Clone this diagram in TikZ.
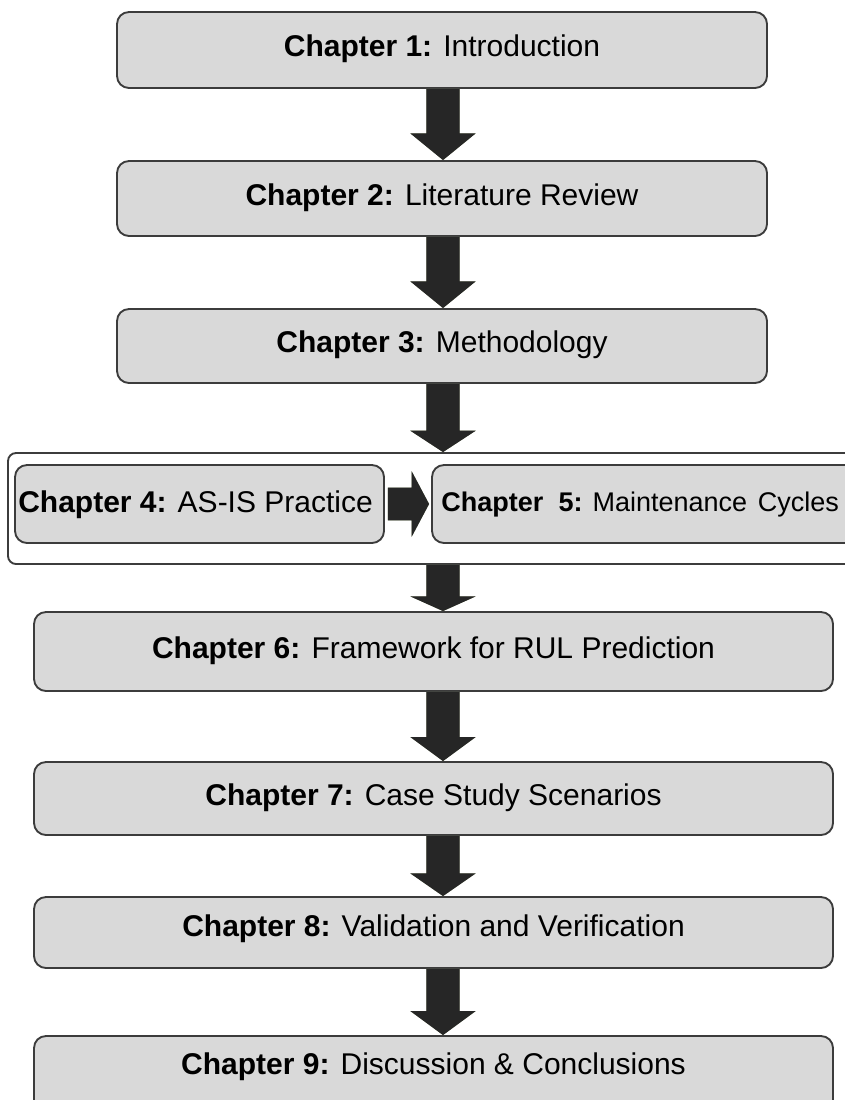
\documentclass[tikz,border=0pt]{standalone}
\usepackage{fontspec}
\setmainfont{Liberation Sans}
\usetikzlibrary{calc,fit}

\definecolor{boxfill}{HTML}{D9D9D9}
\definecolor{boxline}{HTML}{3C3C3C}
\definecolor{arrowfill}{HTML}{262626}
\definecolor{arrowshade}{HTML}{97A47C}

\tikzset{
  chapbox/.style={draw=boxline, fill=boxfill, line width=1.4pt,
    rounded corners=9pt, inner sep=0pt},
  groupframe/.style={draw=boxline, fill=white, line width=1.4pt,
    rounded corners=6pt, inner sep=0pt},
  chaptext/.style={inner sep=0pt, font=\fontsize{22.5pt}{27pt}\selectfont},
  smalltext/.style={inner sep=0pt, font=\fontsize{20.25pt}{24pt}\selectfont},
}

% block arrow pointing down: #1 start, #2 end, #3 head length (pt)
\newcommand\downblock[3]{%
  \foreach \dx/\dy/\col in {1.6pt/-1.6pt/arrowshade, 0pt/0pt/arrowfill}{
    \fill[\col, xshift=\dx, yshift=\dy] let \p1=#1, \p2=#2 in
      (\x1-12.5pt,\y1) -- (\x1+12.5pt,\y1) -- (\x1+12.5pt,\y2+#3)
      -- (\x1+24.5pt,\y2+#3) -- (\x1,\y2) -- (\x1-24.5pt,\y2+#3)
      -- (\x1-12.5pt,\y2+#3) -- cycle;
  }%
}
% block arrow pointing right: #1 start, #2 end, #3 head length (pt)
\newcommand\rightblock[3]{%
  \foreach \dx/\dy/\col in {1.6pt/-1.6pt/arrowshade, 0pt/0pt/arrowfill}{
    \fill[\col, xshift=\dx, yshift=\dy] let \p1=#1, \p2=#2 in
      (\x1,\y1+12.3pt) -- (\x2-#3,\y1+12.3pt) -- (\x2-#3,\y1+24.5pt)
      -- (\x2,\y1) -- (\x2-#3,\y1-24.5pt) -- (\x2-#3,\y1-12.3pt)
      -- (\x1,\y1-12.3pt) -- cycle;
  }%
}

\begin{document}
\begin{tikzpicture}[x=0.75pt,y=-0.75pt]
\useasboundingbox (0,0) rectangle (845,1100);
\clip (0,0) rectangle (845,1100);

% chapter boxes
\node[chapbox, fit={(117,12) (767,88)}] (b1) {};
\node[chapbox, fit={(117,161) (767,236)}] (b2) {};
\node[chapbox, fit={(117,309) (767,383)}] (b3) {};
\node[groupframe, fit={(8,453) (880,564)}] (grp) {};
\node[chapbox, fit={(15,465) (384,543)}] (b4) {};
\node[chapbox, fit={(432,465) (880,543)}] (b5) {};
\node[chapbox, fit={(34,612) (833,691)}] (b6) {};
\node[chapbox, fit={(34,762) (833,835)}] (b7) {};
\node[chapbox, fit={(34,897) (833,968)}] (b8) {};
\node[chapbox, fit={(34,1036) (833,1115)}] (b9) {};

% labels
\node[chaptext] (t1) at ($(b1.center)+(0,-1)$) {\textbf{Chapter 1:} Introduction};
\node[chaptext] (t2) at ($(b2.center)+(0,-1)$) {\textbf{Chapter 2:} Literature Review};
\node[chaptext] (t3) at ($(b3.center)+(0,-1)$) {\textbf{Chapter 3:} Methodology};
\node[chaptext, anchor=west] (t4) at (18,505) {\textbf{Chapter 4:} AS-IS Practice};
\node[smalltext, anchor=west] (t5) at (441,505)
  {\textbf{Chapter\hspace{11.5pt}5:} Maintenance\hspace{8pt}Cycles};
\node[chaptext] (t6) at ($(b6.center)+(0,-1)$) {\textbf{Chapter 6:} Framework for RUL Prediction};
\node[chaptext] (t7) at ($(b7.center)+(0,-1)$) {\textbf{Chapter 7:} Case Study Scenarios};
\node[chaptext] (t8) at ($(b8.center)+(0,-4)$) {\textbf{Chapter 8:} Validation and Verification};
\node[chaptext] (t9) at (433.5,1067) {\textbf{Chapter 9:} Discussion \& Conclusions};

% arrows between the chapters
\coordinate (ax) at (443,0);
\downblock{(ax |- b1.south)}{(ax |- b2.north)}{20pt}
\downblock{(ax |- b2.south)}{(ax |- b3.north)}{20pt}
\downblock{(ax |- b3.south)}{(ax |- grp.north)}{16pt}
\downblock{(ax |- grp.south)}{(ax |- b6.north)}{11pt}
\downblock{(ax |- b6.south)}{(ax |- b7.north)}{18pt}
\downblock{(ax |- b7.south)}{(ax |- b8.north)}{17pt}
\downblock{(ax |- b8.south)}{(ax |- b9.north)}{18pt}
\rightblock{($(b4.east)+(3,0)$)}{($(b5.west)+(-2,0)$)}{13pt}
\end{tikzpicture}
\end{document}
